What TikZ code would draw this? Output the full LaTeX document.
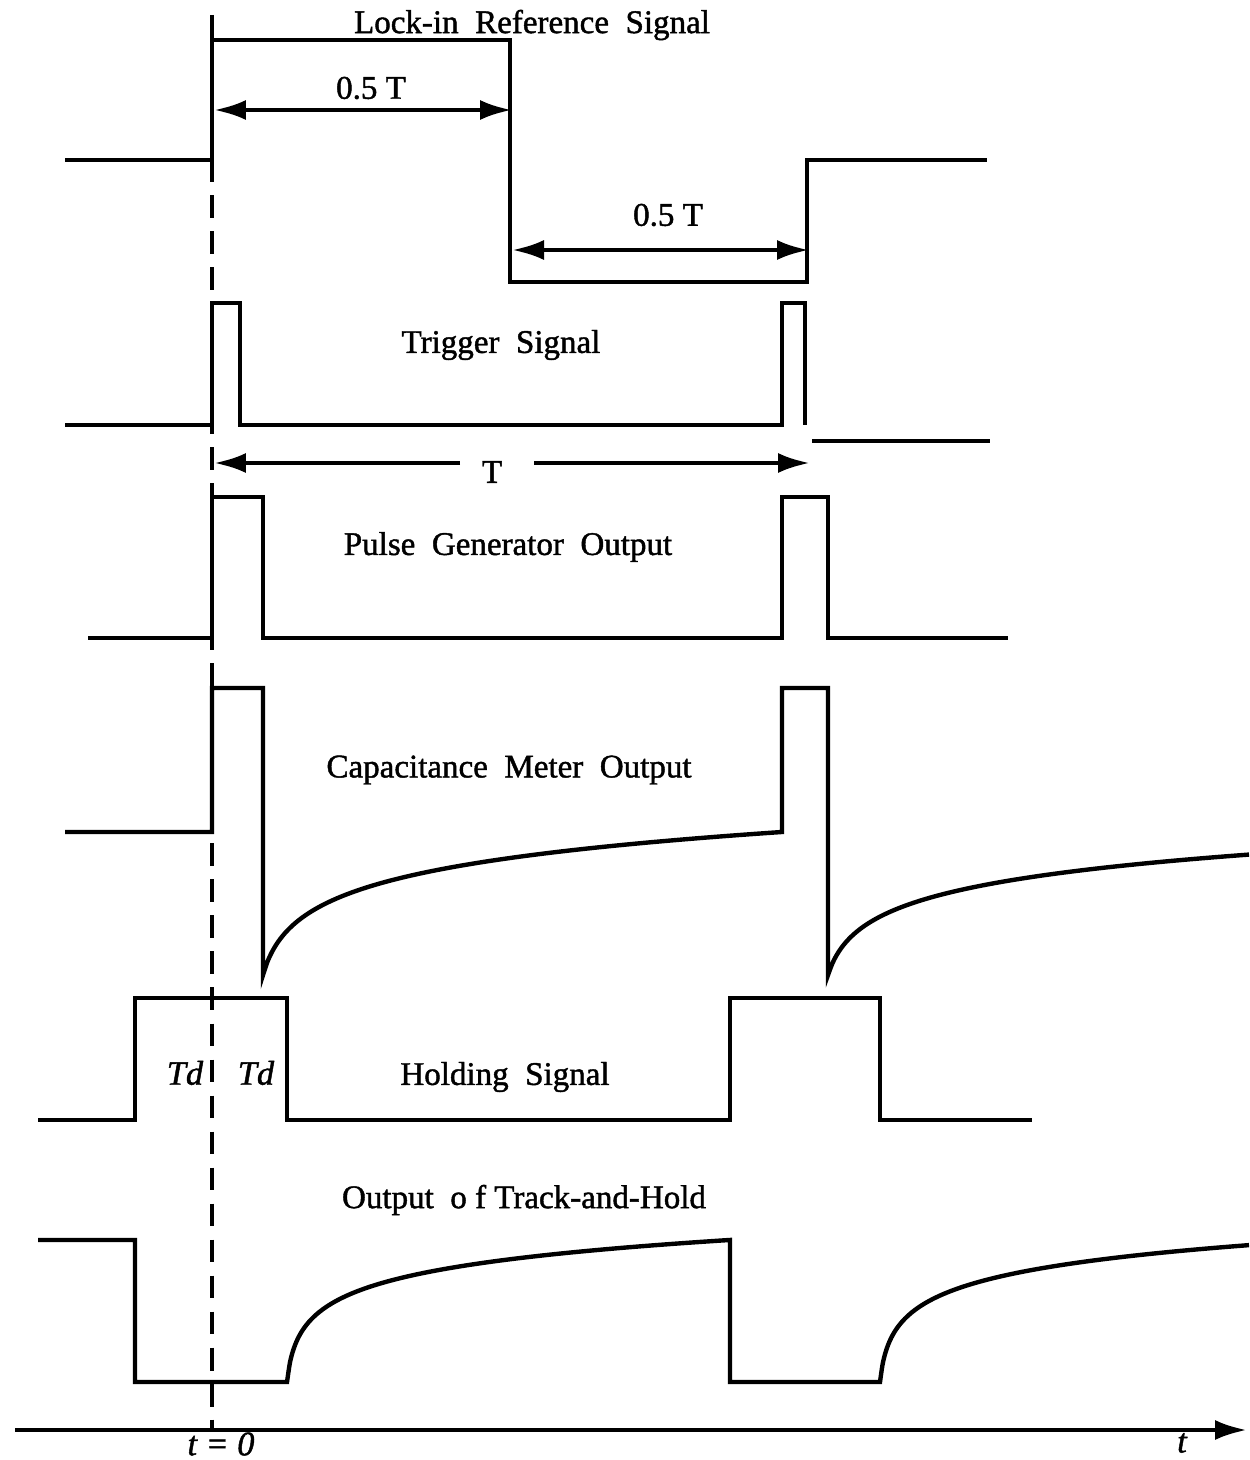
\documentclass[tikz,border=0pt]{standalone}
\usepackage{fontspec}
\setmainfont{Liberation Serif}[FakeBold=1.3]
\usepackage{tikz}
\usetikzlibrary{positioning, arrows.meta, calc}

\begin{document}
\begin{tikzpicture}[
 x=0.02cm, y=-0.02cm,
 wave/.style={line width=2.5pt, line join=miter},
 dimarrow/.style={{Latex[length=0.64cm, width=0.4cm]}-{Latex[length=0.64cm, width=0.4cm]}, line width=2.5pt},
 halfarrow/.style={-{Latex[length=0.64cm, width=0.4cm]}, line width=2.5pt},
 tzero/.style={line width=2.2pt, dash pattern=on 13pt off 7.5pt},
 lbl/.style={font=\fontsize{18.8pt}{22pt}\selectfont, inner sep=0pt},
 ilbl/.style={font=\fontsize{19.5pt}{22pt}\selectfont\itshape, inner sep=0pt}
 ]
  \useasboundingbox (0,0) rectangle (1249,1460);

  % t = 0 marker
  \coordinate (tz_top) at (212,15);
  \coordinate (tz_bot) at (212,1430);
  \draw[tzero] (tz_top) -- (tz_bot);

  % Lock-in reference signal
  \draw[wave] (65,160) -- (212,160) -- (212,40) -- (510,40) -- (510,282) -- (807,282) -- (807,160) -- (987,160);
  \node[lbl] (lockin) at (532,25) {Lock-in\ \ Reference\ \ Signal};
  \coordinate (half1_l) at (214,110);
  \coordinate (half1_r) at (512,110);
  \draw[dimarrow] (half1_l) -- (half1_r);
  \node[lbl] (half1) at (371,88) {0.5 T};
  \coordinate (half2_l) at (512,250);
  \coordinate (half2_r) at (809,250);
  \draw[dimarrow] (half2_l) -- (half2_r);
  \node[lbl] (half2) at (668,215) {0.5 T};

  % Trigger signal
  \draw[wave] (65,425) -- (212,425) -- (212,303) -- (240,303) -- (240,425) -- (782,425) -- (782,303) -- (805,303) -- (805,425);
  \draw[wave] (812,441) -- (990,441);
  \node[lbl] (trigger) at (501,345) {Trigger\ \ Signal};

  % Period
  \node[lbl] (period) at (492,472) {T};
  \coordinate (per_l) at (214,463);
  \coordinate (per_r) at (810,463);
  \coordinate (gap_l) at (460,463);
  \coordinate (gap_r) at (534,463);
  \draw[halfarrow] (gap_l) -- (per_l);
  \draw[halfarrow] (gap_r) -- (per_r);

  % Pulse generator output
  \draw[wave] (88,638) -- (212,638) -- (212,497) -- (263,497) -- (263,638) -- (782,638) -- (782,497) -- (828,497) -- (828,638) -- (1008,638);
  \node[lbl] (pulsegen) at (508,547) {Pulse\ \ Generator\ \ Output};

  % Capacitance meter output
  \draw[wave] (65,832) -- (212,832) -- (212,688) -- (263,688) -- (263,975)
    -- plot[domain=0:519, samples=120, smooth] ({263+\x},{975-36.04*ln(1+\x/10)})
    -- (782,688) -- (828,688) -- (828,975)
    -- plot[domain=0:421, samples=100, smooth] ({828+\x},{975-32*ln(1+\x/10)});
  \node[lbl] (capmeter) at (509,770) {Capacitance\ \ Meter\ \ Output};

  % Holding signal
  \draw[wave] (38,1120) -- (135,1120) -- (135,998) -- (287,998) -- (287,1120) -- (730,1120) -- (730,998) -- (880,998) -- (880,1120) -- (1032,1120);
  \node[ilbl] (td_l) at (185,1073) {Td};
  \node[ilbl] (td_r) at (256,1073) {Td};
  \node[lbl] (holding) at (505,1077) {Holding\ \ Signal};

  % Output of track-and-hold
  \draw[wave] (38,1240) -- (135,1240) -- (135,1382) -- (287,1382)
    -- plot[domain=0:443, samples=150, smooth] ({287+\x},{1382-28.4*ln(1+\x/3)})
    -- (730,1382) -- (880,1382)
    -- plot[domain=0:369, samples=150, smooth] ({880+\x},{1382-28.4*ln(1+\x/3)});
  \node[lbl] (trackhold) at (524,1200) {Output\ \ o f Track-and-Hold};

  % Time axis
  \coordinate (ax_l) at (15,1430);
  \coordinate (ax_r) at (1247,1430);
  \draw[halfarrow] (ax_l) -- (ax_r);
  \node[ilbl] (tzero_lbl) at (221,1444) {t = 0};
  \node[ilbl] (t_lbl) at (1182,1443) {t};
\end{tikzpicture}
\end{document}
